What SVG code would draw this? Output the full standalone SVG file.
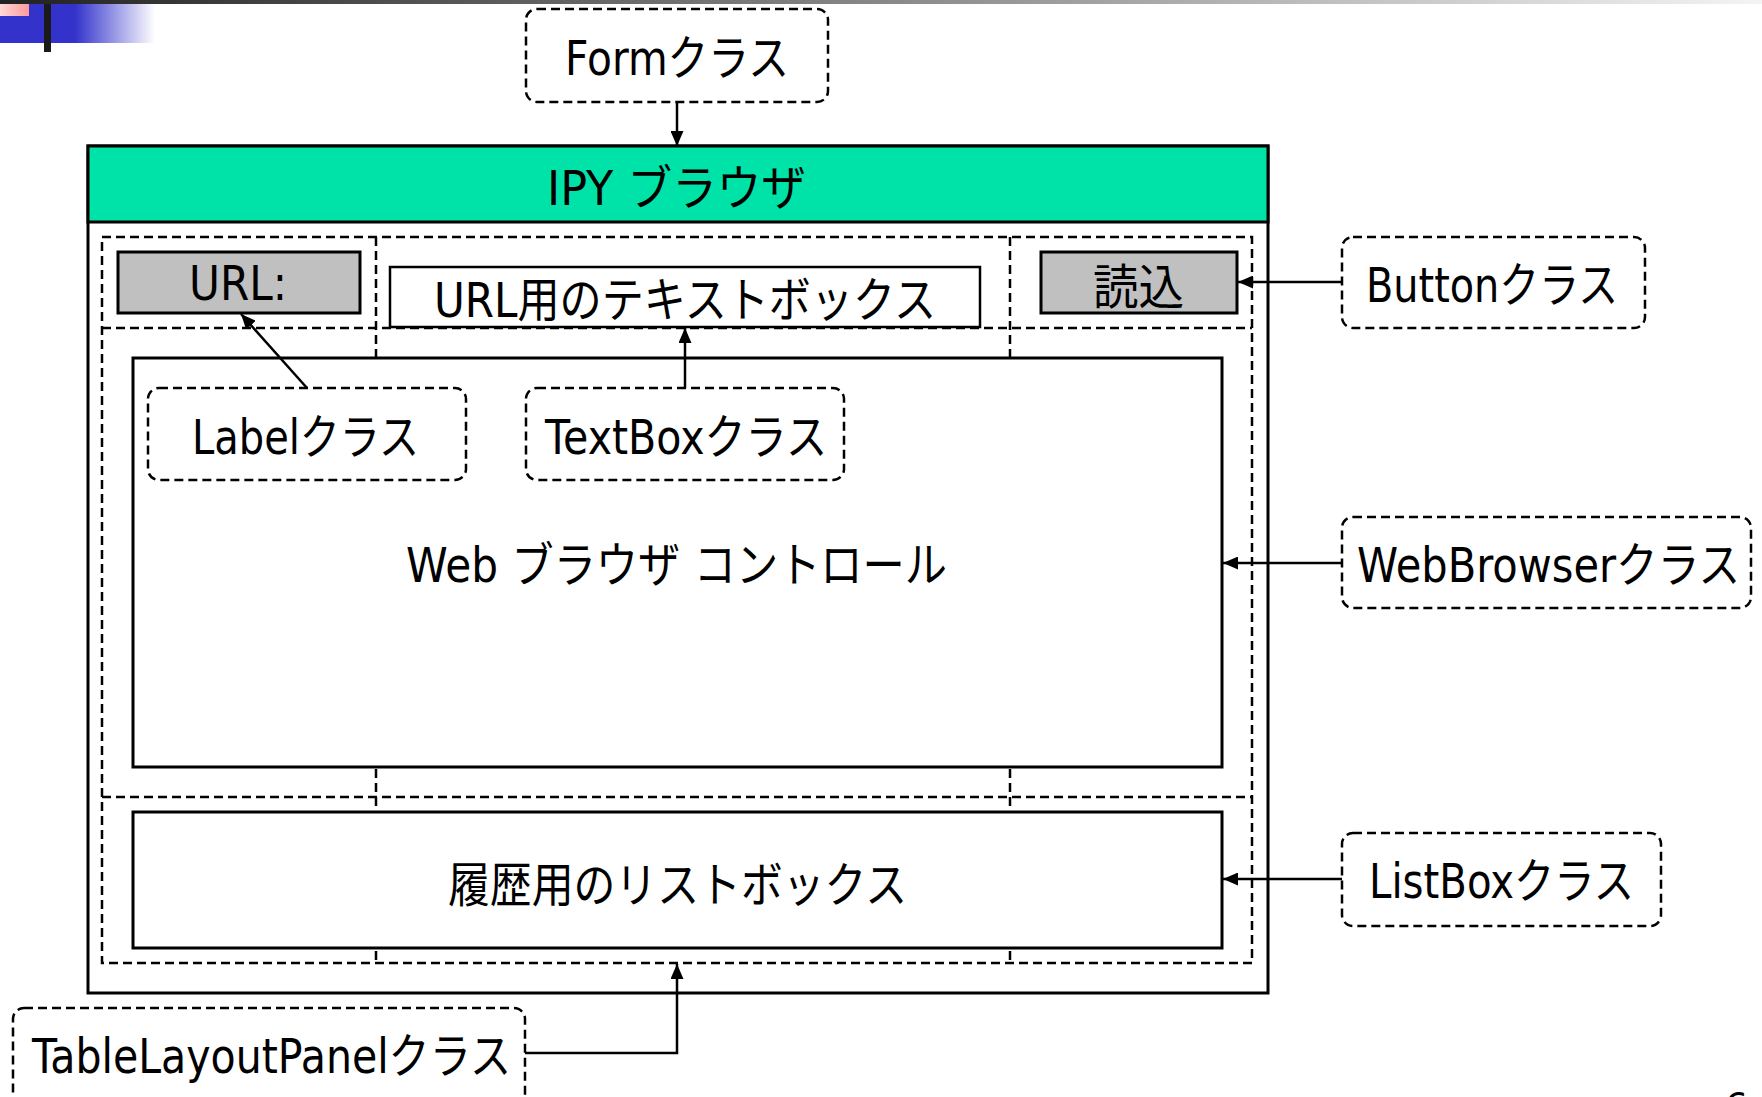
<svg xmlns="http://www.w3.org/2000/svg" width="1762" height="1097" viewBox="0 0 1762 1097">
<defs>
<linearGradient id="topbar" x1="0" y1="0" x2="1" y2="0">
<stop offset="0" stop-color="#222"/><stop offset="0.5" stop-color="#888"/><stop offset="1" stop-color="#f4f4f4"/>
</linearGradient>
<linearGradient id="bluefade" x1="0" y1="0" x2="1" y2="0">
<stop offset="0" stop-color="#3333CC"/><stop offset="1" stop-color="#3333CC" stop-opacity="0"/>
</linearGradient>
<linearGradient id="pink" x1="0" y1="0" x2="1" y2="0">
<stop offset="0" stop-color="#FFD8D8"/><stop offset="1" stop-color="#FF9A9A"/>
</linearGradient>
<marker id="arr" markerUnits="userSpaceOnUse" markerWidth="15" markerHeight="13" refX="15" refY="6.5" orient="auto">
<path d="M0,0 L15,6.5 L0,13 z" fill="#000"/>
</marker>
<style>
.t{font-family:"DejaVu Sans","Noto Sans CJK JP",sans-serif;font-size:48px;fill:#000}
.solid{fill:#fff;stroke:#000;stroke-width:3}
.gray{fill:#C0C0C0;stroke:#000;stroke-width:3}
.dash{fill:none;stroke:#000;stroke-width:2.5;stroke-dasharray:9 5}
.cls{fill:#fff;stroke:#000;stroke-width:2.5;stroke-dasharray:9 5}
.conn{fill:none;stroke:#000;stroke-width:2.5}
</style>
</defs>
<rect width="1762" height="1097" fill="#fff"/>
<g id="decor">
<rect x="0" y="0" width="1762" height="4" fill="url(#topbar)"/>
<rect x="0" y="4" width="75" height="39" fill="#3333CC"/>
<rect x="75" y="4" width="80" height="39" fill="url(#bluefade)"/>
<rect x="0" y="4" width="29" height="12" fill="url(#pink)"/>
<rect x="44" y="4" width="7" height="48" fill="#1a1a1a"/>
<text class="t" x="1725" y="1118" style="font-size:36px">6</text>
</g>
<g id="form-window">
<rect class="solid" x="88" y="146" width="1180" height="847"/>
<rect x="88" y="146" width="1180" height="76" fill="#00E3A8" stroke="#000" stroke-width="3"/>
<text class="t" x="547" y="205" textLength="259" lengthAdjust="spacingAndGlyphs">IPY ブラウザ</text>
</g>
<g id="table-layout">
<rect class="dash" x="102" y="237" width="1150" height="726"/>
<line class="dash" x1="102" y1="328" x2="1252" y2="328"/>
<line class="dash" x1="102" y1="797" x2="1252" y2="797"/>
<line class="dash" x1="376" y1="237" x2="376" y2="963"/>
<line class="dash" x1="1010" y1="237" x2="1010" y2="963"/>
</g>
<g id="url-label">
<rect class="gray" x="118" y="252" width="242" height="61"/>
<text class="t" x="189" y="300" textLength="98" lengthAdjust="spacingAndGlyphs">URL:</text>
</g>
<g id="url-textbox">
<rect class="solid" x="390" y="267" width="590" height="60" style="stroke-width:2.5"/>
<text class="t" x="434" y="317" textLength="502" lengthAdjust="spacingAndGlyphs">URL用のテキストボックス</text>
</g>
<g id="load-button">
<rect class="gray" x="1041" y="252" width="196" height="61"/>
<text class="t" x="1093" y="304" textLength="91" lengthAdjust="spacingAndGlyphs">読込</text>
</g>
<g id="web-browser">
<rect class="solid" x="133" y="358" width="1089" height="409"/>
<text class="t" x="406" y="582" textLength="541" lengthAdjust="spacingAndGlyphs">Web ブラウザ コントロール</text>
</g>
<g id="history-listbox">
<rect class="solid" x="133" y="812" width="1089" height="136"/>
<text class="t" x="448" y="902" textLength="459" lengthAdjust="spacingAndGlyphs">履歴用のリストボックス</text>
</g>
<g id="form-class">
<rect class="cls" x="526" y="9" width="302" height="93" rx="11"/>
<text class="t" x="565" y="75" textLength="224" lengthAdjust="spacingAndGlyphs">Formクラス</text>
</g>
<g id="label-class">
<rect class="cls" x="148" y="388" width="318" height="92" rx="11"/>
<text class="t" x="192" y="454" textLength="227" lengthAdjust="spacingAndGlyphs">Labelクラス</text>
</g>
<g id="textbox-class">
<rect class="cls" x="526" y="388" width="318" height="92" rx="11"/>
<text class="t" x="545" y="454" textLength="282" lengthAdjust="spacingAndGlyphs">TextBoxクラス</text>
</g>
<g id="button-class">
<rect class="cls" x="1342" y="237" width="303" height="91" rx="11"/>
<text class="t" x="1366" y="302" textLength="252" lengthAdjust="spacingAndGlyphs">Buttonクラス</text>
</g>
<g id="webbrowser-class">
<rect class="cls" x="1342" y="517" width="409" height="91" rx="11"/>
<text class="t" x="1357" y="582" textLength="383" lengthAdjust="spacingAndGlyphs">WebBrowserクラス</text>
</g>
<g id="listbox-class">
<rect class="cls" x="1342" y="833" width="319" height="93" rx="11"/>
<text class="t" x="1369" y="898" textLength="265" lengthAdjust="spacingAndGlyphs">ListBoxクラス</text>
</g>
<g id="tablelayoutpanel-class">
<rect class="cls" x="13" y="1008" width="512" height="96" rx="11"/>
<text class="t" x="32" y="1073" textLength="479" lengthAdjust="spacingAndGlyphs">TableLayoutPanelクラス</text>
</g>
<g id="connectors">
<line class="conn" x1="677" y1="102" x2="677" y2="146" marker-end="url(#arr)"/>
<line class="conn" x1="307" y1="388" x2="241" y2="314" marker-end="url(#arr)"/>
<line class="conn" x1="685" y1="388" x2="685" y2="328" marker-end="url(#arr)"/>
<line class="conn" x1="1342" y1="282" x2="1238" y2="282" marker-end="url(#arr)"/>
<line class="conn" x1="1342" y1="563" x2="1223" y2="563" marker-end="url(#arr)"/>
<line class="conn" x1="1342" y1="879" x2="1223" y2="879" marker-end="url(#arr)"/>
<polyline class="conn" points="525,1053 677,1053 677,964" marker-end="url(#arr)"/>
</g>
</svg>
